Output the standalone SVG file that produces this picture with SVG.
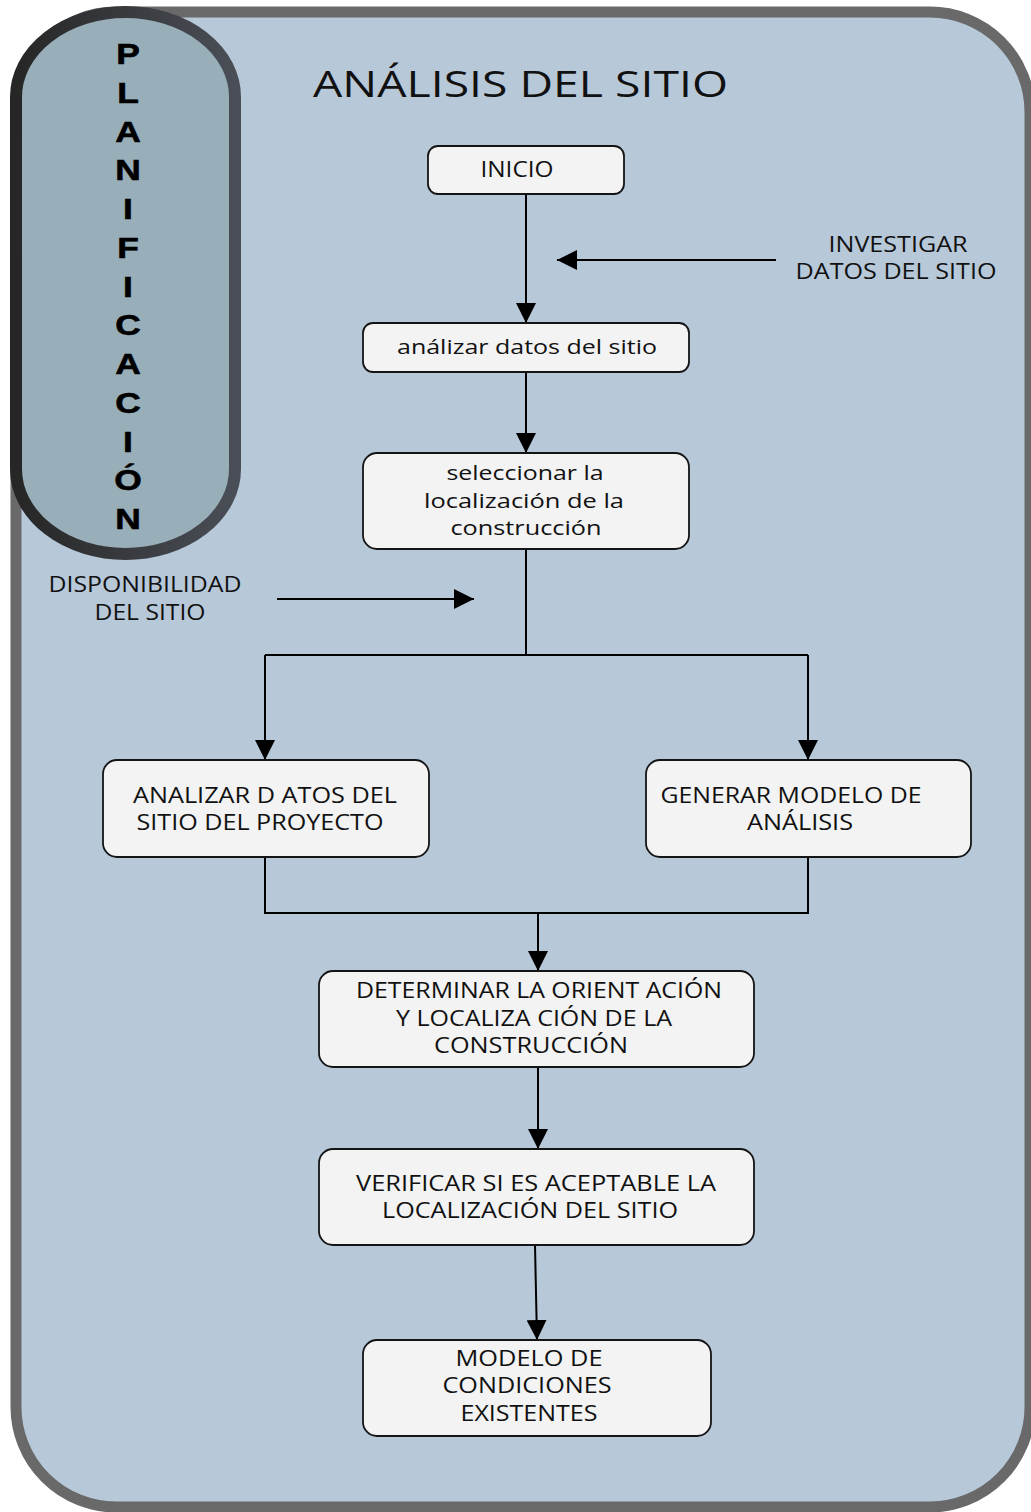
<svg xmlns="http://www.w3.org/2000/svg" width="1031" height="1512" viewBox="0 0 1031 1512">
  <defs>
    <linearGradient id="pillStroke" x1="0" y1="0" x2="1" y2="0">
      <stop offset="0" stop-color="#262626"/>
      <stop offset="1" stop-color="#4a4e56"/>
    </linearGradient>
    <marker id="arrow" viewBox="0 0 20 20" refX="20" refY="10" markerWidth="20" markerHeight="20" markerUnits="userSpaceOnUse" orient="auto">
      <path d="M0,0 L20,10 L0,20 Z" fill="#000"/>
    </marker>
  </defs>
  <style>
    .panel { fill: #b7c8d9; stroke: #696969; stroke-width: 11; }
    .pill { fill: #98aeb9; stroke: url(#pillStroke); stroke-width: 12; }
    .node rect { fill: #f3f3f3; stroke: #141414; stroke-width: 1.8; }
    .t { font-family: "Open Sans", "Noto Sans", "Liberation Sans", sans-serif; font-size: 21px; fill: #111; text-anchor: middle; }
    .lc { font-size: 20px; }
    .v { font-family: "Liberation Sans", Arial, sans-serif; font-weight: bold; font-size: 30px; fill: #000; text-anchor: middle; stroke: #000; stroke-width: 0.6; }
    .title { font-family: "Open Sans", "Noto Sans", "Liberation Sans", sans-serif; font-size: 36px; fill: #111; }
    .conn line, .conn path { stroke: #000; stroke-width: 2; fill: none; }
  </style>

  <!-- background panel -->
  <rect class="panel" x="16" y="12" width="1014" height="1495" rx="100" ry="100"/>

  <!-- side band -->
  <g id="planificacion">
    <rect class="pill" x="16" y="12" width="219" height="542" rx="110" ry="85"/>
    <g transform="translate(128,0) scale(1.18,1)">
      <text class="v" x="0" y="64">P</text>
      <text class="v" x="0" y="103">L</text>
      <text class="v" x="0" y="142">A</text>
      <text class="v" x="0" y="180">N</text>
      <text class="v" x="0" y="219">I</text>
      <text class="v" x="0" y="258">F</text>
      <text class="v" x="0" y="297">I</text>
      <text class="v" x="0" y="335">C</text>
      <text class="v" x="0" y="374">A</text>
      <text class="v" x="0" y="413">C</text>
      <text class="v" x="0" y="452">I</text>
      <text class="v" x="0" y="490">Ó</text>
      <text class="v" x="0" y="529">N</text>
    </g>
  </g>

  <text id="title" class="title" x="313" y="97" textLength="415" lengthAdjust="spacingAndGlyphs">ANÁLISIS DEL SITIO</text>

  <!-- connectors -->
  <g id="connectors" class="conn">
    <line x1="526" y1="194" x2="526" y2="323" marker-end="url(#arrow)"/>
    <line x1="776" y1="260" x2="557" y2="260" marker-end="url(#arrow)"/>
    <line x1="526" y1="372" x2="526" y2="453" marker-end="url(#arrow)"/>
    <line x1="526" y1="549" x2="526" y2="655"/>
    <line x1="277" y1="599" x2="474" y2="599" marker-end="url(#arrow)"/>
    <line x1="265" y1="655" x2="808" y2="655"/>
    <line x1="265" y1="655" x2="265" y2="760" marker-end="url(#arrow)"/>
    <line x1="808" y1="655" x2="808" y2="760" marker-end="url(#arrow)"/>
    <path d="M265,857 V913 H808 V857"/>
    <line x1="538" y1="913" x2="538" y2="971" marker-end="url(#arrow)"/>
    <line x1="538" y1="1067" x2="538" y2="1149" marker-end="url(#arrow)"/>
    <line x1="535" y1="1245" x2="537" y2="1340" marker-end="url(#arrow)"/>
  </g>

  <!-- side inputs -->
  <g id="investigar">
    <text class="t" x="898" y="252" textLength="139" lengthAdjust="spacingAndGlyphs">INVESTIGAR</text>
    <text class="t" x="896" y="279" textLength="201" lengthAdjust="spacingAndGlyphs">DATOS DEL SITIO</text>
  </g>
  <g id="disponibilidad">
    <text class="t" x="145" y="592" textLength="193" lengthAdjust="spacingAndGlyphs">DISPONIBILIDAD</text>
    <text class="t" x="150" y="620" textLength="111" lengthAdjust="spacingAndGlyphs">DEL SITIO</text>
  </g>

  <!-- process steps -->
  <g id="inicio" class="node">
    <rect x="428" y="146" width="196" height="48" rx="10"/>
    <text class="t" x="517" y="177" textLength="73" lengthAdjust="spacingAndGlyphs">INICIO</text>
  </g>
  <g id="analizar-datos" class="node">
    <rect x="363" y="323" width="326" height="49" rx="10"/>
    <text class="t lc" x="527" y="354" textLength="260" lengthAdjust="spacingAndGlyphs">análizar datos del sitio</text>
  </g>
  <g id="seleccionar" class="node">
    <rect x="363" y="453" width="326" height="96" rx="14"/>
    <text class="t lc" x="525" y="480" textLength="157" lengthAdjust="spacingAndGlyphs">seleccionar la</text>
    <text class="t lc" x="524" y="508" textLength="200" lengthAdjust="spacingAndGlyphs">localización de la</text>
    <text class="t lc" x="526" y="535" textLength="151" lengthAdjust="spacingAndGlyphs">construcción</text>
  </g>
  <g id="analizar-proyecto" class="node">
    <rect x="103" y="760" width="326" height="97" rx="14"/>
    <text class="t" x="265" y="803" textLength="264" lengthAdjust="spacingAndGlyphs">ANALIZAR D ATOS DEL</text>
    <text class="t" x="260" y="830" textLength="247" lengthAdjust="spacingAndGlyphs">SITIO DEL PROYECTO</text>
  </g>
  <g id="generar-modelo" class="node">
    <rect x="646" y="760" width="325" height="97" rx="14"/>
    <text class="t" x="791" y="803" textLength="261" lengthAdjust="spacingAndGlyphs">GENERAR MODELO DE</text>
    <text class="t" x="800" y="830" textLength="106" lengthAdjust="spacingAndGlyphs">ANÁLISIS</text>
  </g>
  <g id="determinar" class="node">
    <rect x="319" y="971" width="435" height="96" rx="14"/>
    <text class="t" x="539" y="998" textLength="366" lengthAdjust="spacingAndGlyphs">DETERMINAR LA ORIENT ACIÓN</text>
    <text class="t" x="534" y="1026" textLength="276" lengthAdjust="spacingAndGlyphs">Y LOCALIZA CIÓN DE LA</text>
    <text class="t" x="531" y="1053" textLength="194" lengthAdjust="spacingAndGlyphs">CONSTRUCCIÓN</text>
  </g>
  <g id="verificar" class="node">
    <rect x="319" y="1149" width="435" height="96" rx="14"/>
    <text class="t" x="536" y="1191" textLength="360" lengthAdjust="spacingAndGlyphs">VERIFICAR SI ES ACEPTABLE LA</text>
    <text class="t" x="530" y="1218" textLength="296" lengthAdjust="spacingAndGlyphs">LOCALIZACIÓN DEL SITIO</text>
  </g>
  <g id="modelo-condiciones" class="node">
    <rect x="363" y="1340" width="348" height="96" rx="14"/>
    <text class="t" x="529" y="1366" textLength="147" lengthAdjust="spacingAndGlyphs">MODELO DE</text>
    <text class="t" x="527" y="1393" textLength="169" lengthAdjust="spacingAndGlyphs">CONDICIONES</text>
    <text class="t" x="529" y="1421" textLength="137" lengthAdjust="spacingAndGlyphs">EXISTENTES</text>
  </g>
</svg>
